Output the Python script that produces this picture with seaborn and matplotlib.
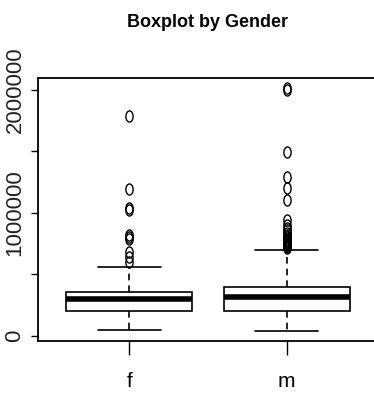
import matplotlib
matplotlib.use("Agg")
import matplotlib.pyplot as plt
import pandas as pd
import seaborn as sns
from matplotlib.path import Path
from matplotlib.transforms import Affine2D

# salaries in thousands
f_salary_k = [51, 80, 100, 120, 140, 150, 160, 170, 180, 185, 190, 195, 200, 203, 205,
              206, 215, 225, 235, 245, 250, 255, 260, 265, 270, 275, 280, 285, 290, 295,
              300, 305, 310, 315, 320, 325, 330, 335, 340, 342, 345, 348, 350, 353, 356,
              358, 380, 420, 460, 510, 563,
              602, 643, 684, 790, 805, 820, 1020, 1040, 1194, 1788]
m_salary_k = [38, 55, 70, 85, 95, 105, 115, 120, 128, 135, 142, 148, 154, 160, 165, 170,
              175, 179, 183, 187, 190, 193, 195, 197, 199,
              200, 205, 210, 215, 220, 225, 230, 235, 240, 245, 250, 255, 260, 265, 270,
              275, 280, 285, 290, 294, 298, 302, 305, 308, 311,
              313, 316, 320, 324, 328, 332, 336, 340, 344, 348, 352, 356, 360, 364, 368,
              372, 376, 380, 383, 386, 389, 392, 395, 397, 399,
              400, 550, 695,
              714, 722, 730, 738, 745, 752, 760, 770, 780, 790, 805, 820, 840, 860, 880,
              905, 940, 1105, 1200, 1294, 1498, 2000, 2010]
genders = ["f", "m"]
y_ticks = [0, 500000, 1000000, 1500000, 2000000]
y_tick_labels = ["0", "", "1000000", "", "2000000"]

df = pd.DataFrame({
    "gender": ["f"] * len(f_salary_k) + ["m"] * len(m_salary_k),
    "salary": [v * 1000 for v in f_salary_k + m_salary_k],
})

sns.set_style("white")
plt.rcParams["font.family"] = ["Liberation Sans", "DejaVu Sans"]
plt.rcParams["text.color"] = "black"
plt.rcParams["xtick.color"] = "black"
plt.rcParams["ytick.color"] = "black"

# narrow open oval, like R's squeezed circles
oval = Affine2D().scale(0.65, 1.0).transform_path(Path.unit_circle())

fig = plt.figure(figsize=(3.74, 3.94), dpi=100)
ax = fig.add_axes([0.1016, 0.1345, 0.909, 0.6675])

sns.boxplot(
    data=df, x="gender", y="salary", order=genders, ax=ax,
    color="white", linecolor="black", linewidth=1.2, width=0.8, whis=1.5,
    medianprops={"linewidth": 4, "color": "black"},
    whiskerprops={"linestyle": (0, (4, 3))},
    flierprops={"marker": oval, "markersize": 8, "markerfacecolor": "none",
                "markeredgecolor": "black", "markeredgewidth": 1},
)

# Plot formatting
ax.set_xlim(-0.58, 1.58)
ax.set_ylim(-41000, 2095000)
ax.set_yticks(y_ticks)
ax.set_yticklabels(y_tick_labels, rotation=90, va="center", fontsize=16, color="#222222")
ax.set_xticks(range(len(genders)))
ax.set_xticklabels(genders, fontsize=15)
ax.tick_params(axis="y", direction="out", length=5, width=1, pad=4, left=True)
ax.tick_params(axis="x", direction="out", length=10, width=1, pad=12, bottom=True)
for side in ["left", "right", "top", "bottom"]:
    ax.spines[side].set_visible(True)
    ax.spines[side].set_color("black")
    ax.spines[side].set_linewidth(1.3)
ax.set_xlabel("")
ax.set_ylabel("")
ax.set_title("Boxplot by Gender", fontsize=13, fontweight="bold", pad=37)

fig.savefig("out.png", dpi=100, facecolor="white")
